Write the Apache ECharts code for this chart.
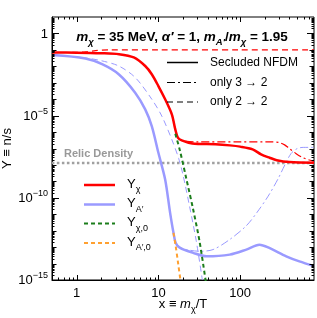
<!DOCTYPE html>
<html><head><meta charset="utf-8">
<script src="https://cdn.jsdelivr.net/npm/echarts@6/dist/echarts.min.js"></script>
<style>html,body{margin:0;padding:0;background:#fff}#c{width:317px;height:318px}</style>
</head><body><div id="c"></div>
<script>
// ---- data ----
const xRange = [0.5, 800];
const yRange = [1e-15, 10];
const xMajorTicks = [1, 10, 100];
const xMajorLabels = ['1', '10', '100'];
const yMajorTicks = [1, 1e-5, 1e-10, 1e-15];
const yMajorLabels = ['1', '10^-5', '10^-10', '10^-15'];

// Y_chi, secluded NFDM (red solid)
const chiX = [0.5, 1, 2, 3.3, 5, 6.9, 8.3, 10, 12.1, 14.6, 16.1, 17.3, 19.3, 26, 50, 75, 100, 142, 180, 229, 280, 400, 800];
const chiY = [0.069, 0.068, 0.063, 0.055, 0.035, 0.0105, 3.3e-3, 6.3e-4, 9.8e-5, 1.2e-5, 1.45e-6, 4.6e-7, 3.1e-7, 2.0e-7, 1.8e-7, 1.55e-7, 1.3e-7, 8.9e-8, 4.4e-8, 2.75e-8, 1.95e-8, 1.5e-8, 1.35e-8];
// Y_chi, only 2->2 (red dashed)
const chi22X = [0.5, 1, 1.3, 1.7, 2.5, 10, 100, 800];
const chi22Y = [0.069, 0.07, 0.076, 0.09, 0.1, 0.1, 0.1, 0.1];
// Y_chi, only 3->2 (red dash-dot)
const chi32X = [10, 12.1, 14.6, 16.1, 17.3, 19.3, 30, 100, 250, 300, 350, 400, 480, 580, 700, 800];
const chi32Y = [6.3e-4, 9.8e-5, 1.2e-5, 1.45e-6, 4.6e-7, 3.1e-7, 2.5e-7, 2.5e-7, 2.5e-7, 2.3e-7, 1.66e-7, 1.0e-7, 5.0e-8, 2.8e-8, 2.0e-8, 1.66e-8];
// Y_A' secluded NFDM (blue solid)
const apX = [0.5, 1.28, 2.05, 3.27, 5.2, 6.9, 8.3, 10, 12.1, 13.9, 15.3, 16.3, 18.4, 26.6, 38.8, 74.5, 119, 172, 227, 366, 530, 800];
const apY = [0.048, 0.030, 0.0135, 3.3e-3, 2.5e-4, 2.4e-5, 2.3e-6, 5.5e-8, 1.3e-9, 1.26e-11, 7.4e-13, 1.8e-13, 8.9e-14, 4.5e-14, 2.75e-14, 3.5e-14, 7.1e-14, 1.4e-13, 8.9e-14, 2.75e-14, 1.35e-14, 7.1e-15];
// Y_A' only 2->2 (blue dashed)
const ap22X = [0.5, 1.3, 2, 3.27, 5.2, 8.3, 11, 14.6, 17.7, 20, 24, 29, 34.5];
const ap22Y = [0.048, 0.032, 0.022, 0.0105, 2.1e-3, 1e-4, 9.5e-6, 3.5e-7, 2.5e-8, 2.5e-9, 3.2e-11, 2.5e-13, 1e-15];
// Y_A' only 3->2 (blue dash-dot)
const ap32X = [13.9, 15.3, 16.3, 18.4, 22, 32, 46.6, 74.5, 119, 160, 220, 290, 360, 420, 500, 600, 800];
const ap32Y = [1.26e-11, 7.4e-13, 1.8e-13, 1.0e-13, 7.1e-14, 5.6e-14, 7.1e-14, 2.9e-13, 2.0e-12, 1.26e-11, 1.26e-10, 1.4e-9, 1.26e-8, 5.0e-8, 1.0e-7, 1.17e-7, 1.17e-7];
// equilibrium Y_chi,0 (green dashed)
const chi0X = [16.1, 18.3, 22, 26.6, 32, 38.5];
const chi0Y = [7.9e-7, 7.9e-8, 1.4e-9, 2e-11, 2e-13, 5e-16];
// equilibrium Y_A',0 (orange dashed)
const ap0X = [15.3, 16.3, 17.4, 18.6, 19.0];
const ap0Y = [7.4e-13, 1.1e-13, 1.1e-14, 1e-15, 5e-16];
// relic density
const relicX = [0.5, 800];
const relicY = [1.3e-8, 1.3e-8];

// ---- build ----
const lg = Math.log10;
const pts = (xs, ys) => xs.map((x, i) => [lg(x), lg(ys[i])]);
const FONT = 'Liberation Sans, Arial, sans-serif';

const xmin = lg(xRange[0]), xmax = lg(xRange[1]);
const ymin = lg(yRange[0]), ymax = lg(yRange[1]);
const black = '#000';

const xMajor = xMajorTicks.map(lg);
const yMajor = yMajorTicks.map(lg);
// tick lists: [position, length]
const xTickData = xMajor.map(v => [v, 5]);
for (let n = -1; n <= 2; n++) for (let k = 2; k <= 9; k++) {
  const v = lg(k) + n;
  if (v > xmin + 1e-6 && v < xmax - 1e-6) xTickData.push([v, 2.5]);
}
const yTickData = yMajor.map(v => [v, 7]);
for (let e = -14; e <= 0; e++) if (e % 5 !== 0) yTickData.push([e, 4.5]);
for (let e = -15; e <= 0; e++) for (let k = 2; k <= 9; k++) yTickData.push([e + lg(k), 2.5]);

function yLabel(v) {
  const i = yMajor.findIndex(t => Math.abs(t - v) < 1e-6);
  const s = i >= 0 ? yMajorLabels[i] : '';
  if (s.indexOf('^') < 0) return '{b|' + s + '}';
  const p = s.split('^');
  return '{b|' + p[0] + '}{s|' + p[1].replace('-', '\u2212') + '}';
}
function xLabel(v) {
  const i = xMajor.findIndex(t => Math.abs(t - v) < 1e-6);
  return i >= 0 ? xMajorLabels[i] : '';
}

const xAxis = [{
  type: 'value', min: xmin, max: xmax, position: 'bottom',
  axisLine: { show: true, onZero: false, lineStyle: { color: black, width: 1 } },
  axisTick: { show: false },
  axisLabel: { show: true, customValues: xMajor, formatter: xLabel, margin: 7, fontSize: 13, color: black, fontFamily: FONT },
  splitLine: { show: false },
  name: '{n|x \u2261 }{i|m}{s|\u03c7}{n|/T}', nameLocation: 'middle', nameGap: 18, nameMoveOverlap: false,
  nameTextStyle: { rich: {
    n: { fontSize: 13, fontFamily: FONT, color: black, verticalAlign: 'top', lineHeight: 14 },
    i: { fontSize: 13, fontFamily: FONT, color: black, fontStyle: 'italic', verticalAlign: 'top', lineHeight: 14 },
    s: { fontSize: 9, fontFamily: FONT, color: black, verticalAlign: 'top', lineHeight: 9, padding: [7, 0, 0, 0] } } }
}];
const yAxis = [{
  type: 'value', min: ymin, max: ymax, position: 'left',
  axisLine: { show: true, onZero: false, lineStyle: { color: black, width: 1 } },
  axisTick: { show: false },
  axisLabel: { show: true, customValues: yMajor, formatter: yLabel, margin: 4, color: black, fontFamily: FONT,
    rich: { b: { fontSize: 13, fontFamily: FONT, color: black, verticalAlign: 'bottom', lineHeight: 14 },
            s: { fontSize: 9, fontFamily: FONT, color: black, verticalAlign: 'bottom', lineHeight: 9, padding: [0, 0, 7, 0] } } },
  splitLine: { show: false },
  name: 'Y \u2261 n/s', nameLocation: 'middle', nameGap: 38, nameRotate: 90, nameMoveOverlap: false,
  nameTextStyle: { fontSize: 13, fontFamily: FONT, color: black }
}];

const RED = '#ff0000', BLUE = '#9a9aff', GREEN = '#1b7d1b', ORANGE = '#ffa030', GREY = '#a0a0a0';
function ser(name, xs, ys, color, width, dash, z) {
  return { name, type: 'line', data: pts(xs, ys), showSymbol: false, symbol: 'none',
    smooth: 0.3, clip: true, silent: true, z: z || 2,
    lineStyle: { color, width, type: dash || 'solid', cap: 'butt' } };
}
const crisp = v => Math.round(v) + 0.5;
const tickSeries = [
  { type: 'custom', silent: true, z: 10, clip: false, data: xTickData,
    renderItem: (p, api) => {
      const v = api.value(0), len = api.value(1);
      const b = api.coord([v, ymin]), t = api.coord([v, ymax]);
      const x = crisp(b[0]);
      return { type: 'group', children: [
        { type: 'line', shape: { x1: x, y1: b[1], x2: x, y2: b[1] - len }, style: { stroke: black, lineWidth: 1 } },
        { type: 'line', shape: { x1: x, y1: t[1], x2: x, y2: t[1] + len }, style: { stroke: black, lineWidth: 1 } } ] };
    } },
  { type: 'custom', silent: true, z: 10, clip: false, data: yTickData,
    renderItem: (p, api) => {
      const v = api.value(0), len = api.value(1);
      const l = api.coord([xmin, v]), r = api.coord([xmax, v]);
      const y = crisp(l[1]);
      return { type: 'group', children: [
        { type: 'line', shape: { x1: l[0], y1: y, x2: l[0] + len, y2: y }, style: { stroke: black, lineWidth: 1 } },
        { type: 'line', shape: { x1: r[0], y1: y, x2: r[0] - len, y2: y }, style: { stroke: black, lineWidth: 1 } } ] };
    } }
];
const series = [
  ser('relic', relicX, relicY, GREY, 2.5, [2.5, 2.5], 1),
  ser('ap22', ap22X, ap22Y, BLUE, 1, [6, 4], 2),
  ser('ap32', ap32X, ap32Y, BLUE, 1, [8, 3, 2, 3], 2),
  ser('ap', apX, apY, BLUE, 2.5, null, 3),
  ser('chi22', chi22X, chi22Y, RED, 1.2, [6, 4], 2),
  ser('chi32', chi32X, chi32Y, RED, 1.2, [8, 3, 2, 3], 2),
  ser('chi', chiX, chiY, RED, 2.5, null, 3),
  ser('chi0', chi0X, chi0Y, GREEN, 2, [4, 3], 4),
  ser('ap0', ap0X, ap0Y, ORANGE, 2, [4, 3], 4)
].concat(tickSeries);

const T = (x, y, text, rich, extra) => Object.assign({ type: 'text', x, y, z: 20, style: Object.assign({ text, rich, fontFamily: FONT, fill: black, verticalAlign: 'middle' }, extra || {}) });
const L = (x1, x2, y, color, w, dash) => ({ type: 'line', z: 20, shape: { x1, y1: y, x2, y2: y }, style: { stroke: color, lineWidth: w, lineDash: dash || null } });

const titleRich = {
  b: { fontSize: 13.5, fontWeight: 'bold', fontFamily: FONT, color: black, verticalAlign: 'top', lineHeight: 15 },
  i: { fontSize: 13.5, fontWeight: 'bold', fontStyle: 'italic', fontFamily: FONT, color: black, verticalAlign: 'top', lineHeight: 15 },
  s: { fontSize: 9.5, fontWeight: 'bold', fontStyle: 'italic', fontFamily: FONT, color: black, verticalAlign: 'top', lineHeight: 10, padding: [7, 0, 0, 0] }
};
const legRich = {
  b: { fontSize: 13, fontFamily: FONT, color: black, verticalAlign: 'top', lineHeight: 15 },
  s: { fontSize: 9, fontFamily: FONT, color: black, verticalAlign: 'top', lineHeight: 9, padding: [8, 0, 0, 0] }
};

const graphic = [
  T(182, 38, '{i|m}{s|\u03c7}{b| = 35 MeV, }{i|\u03b1\u2032}{b| = 1, }{i|m}{s|A\u2032}{b|/}{i|m}{s|\u03c7}{b| = 1.95}', titleRich, { align: 'center' }),
  L(167, 198, 62.5, black, 1.5), T(210, 62.5, 'Secluded NFDM', null, { fontSize: 12 }),
  L(167, 198, 82.5, black, 1, [8, 3, 2, 3]), T(210, 82.5, 'only 3 \u2192 2', null, { fontSize: 12 }),
  L(167, 198, 102, black, 1, [6, 4]), T(210, 102, 'only 2 \u2192 2', null, { fontSize: 12 }),
  T(64, 154, 'Relic Density', null, { fontSize: 11, fontWeight: 'bold', fill: '#999999' }),
  L(84, 115, 185, RED, 2.5), T(127, 185, '{b|Y}{s|\u03c7}', legRich),
  L(84, 115, 204.5, BLUE, 2.5), T(127, 204.5, '{b|Y}{s|A\u2032}', legRich),
  L(84, 115, 223.5, GREEN, 2, [4, 3]), T(127, 223.5, '{b|Y}{s|\u03c7,0}', legRich),
  L(84, 115, 243, ORANGE, 2, [4, 3]), T(127, 243, '{b|Y}{s|A\u2032,0}', legRich)
];

const chart = echarts.init(document.getElementById('c'), null, { renderer: 'canvas' });
chart.setOption({
  animation: false,
  backgroundColor: '#fff',
  grid: { left: 52, right: 3, top: 17, bottom: 38, containLabel: false, outerBoundsMode: 'none',
    show: true, borderColor: black, borderWidth: 1, backgroundColor: 'transparent' },
  xAxis, yAxis, series, graphic
});
</script></body></html>
